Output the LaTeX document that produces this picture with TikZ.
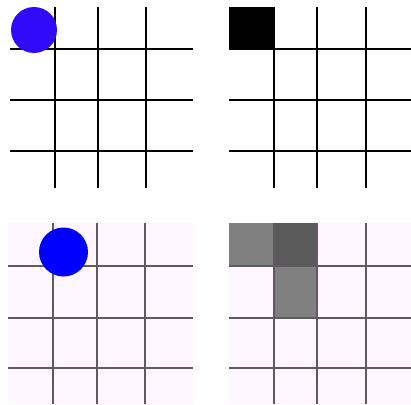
\documentclass[tikz,border=0pt]{standalone}
\definecolor{circA}{RGB}{50,10,250}
\definecolor{bgpink}{RGB}{255,246,255}
\definecolor{gmid}{RGB}{128,128,128}
\definecolor{gdark}{RGB}{90,90,90}
\definecolor{gline}{RGB}{95,90,95}
\tikzset{
  topline/.style={draw=black, line width=1.6pt},
  botline/.style={draw=gline, line width=2.2pt},
}
\begin{document}
\begin{tikzpicture}[x=1pt,y=-1pt]
\useasboundingbox[fill=white] (0,0) rectangle (411,404);
% ---- panel 1 (top left)
\foreach \y in {49,100,151} \draw[topline] (10,\y) -- (193,\y);
\foreach \x in {55,98,146} \draw[topline] (\x,7) -- (\x,188);
\fill[circA] (34,30) circle (23);
% ---- panel 2 (top right)
\fill[black] (229,7) rectangle (274,49);
\foreach \y in {49,100,151} \draw[topline] (229,\y) -- (411,\y);
\foreach \x in {274,317,366} \draw[topline] (\x,7) -- (\x,188);
% ---- panel 3 (bottom left)
\fill[bgpink] (8,223) rectangle (193,404);
\foreach \y in {266,318,368} \draw[botline] (8,\y) -- (193,\y);
\foreach \x in {53,97,145} \draw[botline] (\x,223) -- (\x,404);
\fill[blue] (63.5,252) circle (24.5);
% ---- panel 4 (bottom right)
\fill[bgpink] (229,223) rectangle (411,404);
\fill[gmid] (229,223) rectangle (274,266);
\fill[gdark] (274,223) rectangle (317,266);
\fill[gmid] (274,266) rectangle (317,318);
\foreach \y in {266,318,368} \draw[botline] (229,\y) -- (411,\y);
\foreach \x in {274,317,366} \draw[botline] (\x,223) -- (\x,404);
\end{tikzpicture}
\end{document}
